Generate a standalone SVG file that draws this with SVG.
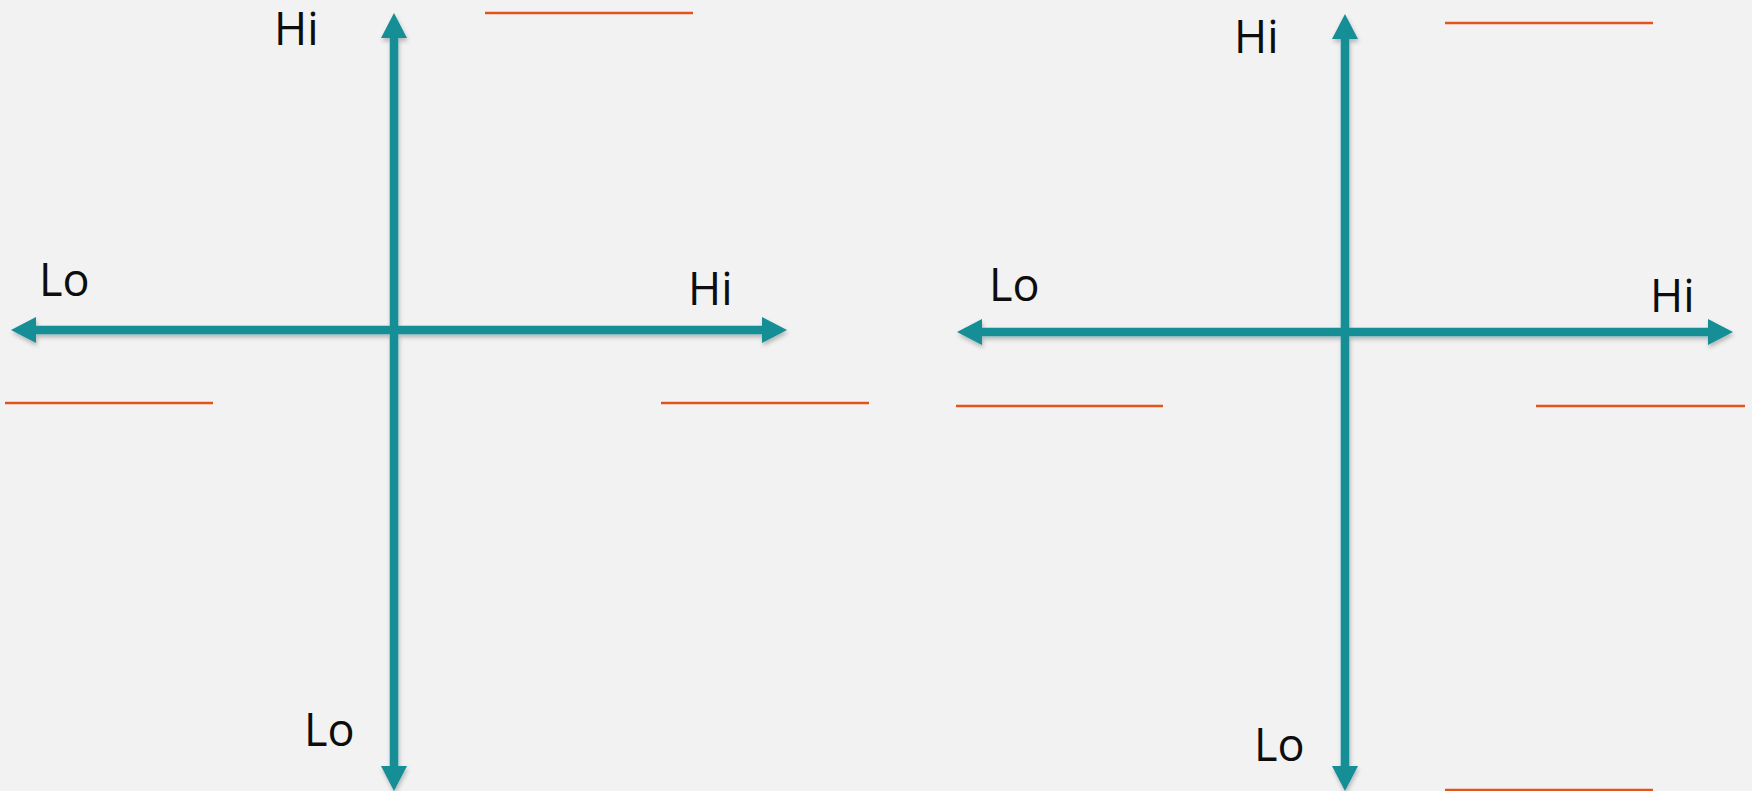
<svg xmlns="http://www.w3.org/2000/svg" width="1752" height="791" viewBox="0 0 1752 791">
<style>
.axis{stroke:#138e96;stroke-width:8.5;fill:none;marker-start:url(#head);marker-end:url(#head)}
.lbl{font-family:"Open Sans","Liberation Sans",sans-serif;font-size:45px;fill:#0d0d0d}
.blank{stroke:#e3531c;stroke-width:2.5}
</style>
<defs>
<marker id="head" viewBox="0 0 26 26" refX="1" refY="13" markerWidth="26" markerHeight="26" markerUnits="userSpaceOnUse" orient="auto-start-reverse">
<path d="M0,0 L25,13 L0,26 z" fill="#138e96"/>
</marker>
<filter id="sh" filterUnits="userSpaceOnUse" x="0" y="0" width="1752" height="791">
<feDropShadow dx="1" dy="3" stdDeviation="2" flood-color="#000" flood-opacity="0.25"/>
</filter>
</defs>
<rect width="1752" height="791" fill="#f2f2f2"/>
<g id="connectors" filter="url(#sh)">
<line class="axis" x1="35" y1="330" x2="763" y2="330"/>
<line class="axis" x1="394" y1="37" x2="394" y2="767"/>
<line class="axis" x1="981" y1="332" x2="1709" y2="332"/>
<line class="axis" x1="1345" y1="38" x2="1345" y2="767"/>
</g>
<g id="left-chart">
<text class="lbl" x="274" y="45">Hi</text>
<text class="lbl" x="39" y="296">Lo</text>
<text class="lbl" x="688" y="305">Hi</text>
<text class="lbl" x="304" y="746">Lo</text>
<line class="blank" x1="485" y1="13" x2="693" y2="13"/>
<line class="blank" x1="5" y1="403" x2="213" y2="403"/>
<line class="blank" x1="661" y1="403" x2="869" y2="403"/>
</g>
<g id="right-chart">
<text class="lbl" x="1234" y="53">Hi</text>
<text class="lbl" x="989" y="301">Lo</text>
<text class="lbl" x="1650" y="312">Hi</text>
<text class="lbl" x="1254" y="761">Lo</text>
<line class="blank" x1="1445" y1="23" x2="1653" y2="23"/>
<line class="blank" x1="956" y1="406" x2="1163" y2="406"/>
<line class="blank" x1="1536" y1="406" x2="1745" y2="406"/>
<line class="blank" x1="1445" y1="790" x2="1653" y2="790"/>
</g>
</svg>
